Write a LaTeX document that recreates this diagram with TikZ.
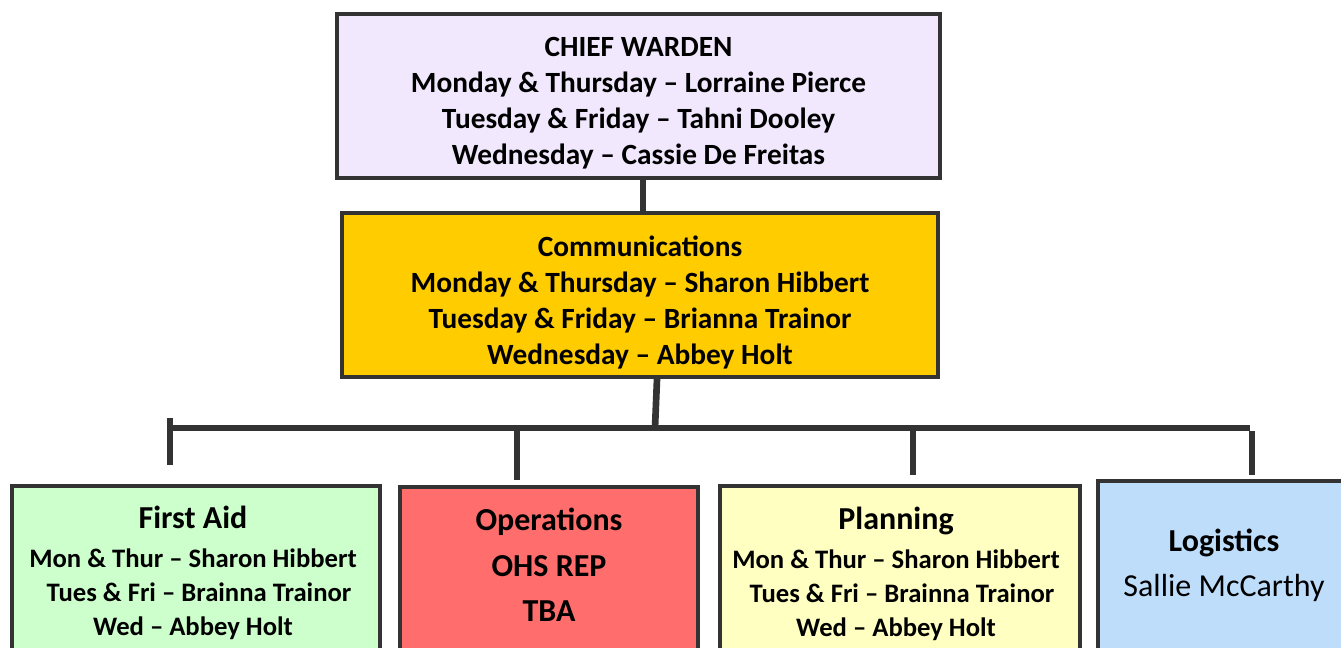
\documentclass[tikz,border=0pt]{standalone}
\usepackage{fontspec}
\setmainfont{Carlito}
\begin{document}
\begin{tikzpicture}[x=0.75pt,y=-0.75pt]
\definecolor{linegray}{HTML}{333333}
\definecolor{chieffill}{HTML}{F1E8FD}
\definecolor{commfill}{HTML}{FFCC00}
\definecolor{aidfill}{HTML}{CCFFCC}
\definecolor{opsfill}{HTML}{FF6D6D}
\definecolor{planfill}{HTML}{FFFFC1}
\definecolor{logifill}{HTML}{BDDDFB}
\tikzstyle{box} = [draw=linegray, line width=3pt, inner sep=0pt] % frame of every box
\tikzstyle{link} = [draw=linegray, line width=5pt] % connector bars
\tikzstyle{bigtxt} = [align=center, font=\bfseries\fontsize{22}{27}\selectfont] % top boxes
\tikzstyle{smalltxt} = [align=center, font=\bfseries\fontsize{20}{25.5}\selectfont] % bottom boxes

\useasboundingbox (0,0) rectangle (1341,648);
\clip (0,0) rectangle (1341,648);

% top of the tree
\node[box, fill=chieffill, minimum width=603*0.75pt, minimum height=164*0.75pt] (chief) at (638.5,96) {};
\node[bigtxt] (chieftxt) at (638.5,103) {CHIEF WARDEN\\Monday \& Thursday -- Lorraine Pierce\\Tuesday \& Friday -- Tahni Dooley\\Wednesday -- Cassie De Freitas};
\node[box, fill=commfill, minimum width=596*0.75pt, minimum height=164*0.75pt] (comm) at (640,295) {};
\node[bigtxt] (commtxt) at (640,302) {Communications\\Monday \& Thursday -- Sharon Hibbert\\Tuesday \& Friday -- Brianna Trainor\\Wednesday -- Abbey Holt};

% bottom row
\node[box, fill=aidfill, minimum width=368*0.75pt, minimum height=174*0.75pt] (aid) at (196,573) {};
\node[box, fill=opsfill, minimum width=298*0.75pt, minimum height=180*0.75pt] (ops) at (549,577) {};
\node[box, fill=planfill, minimum width=360*0.75pt, minimum height=180*0.75pt] (plan) at (900,576) {};
\node[box, fill=logifill, minimum width=252*0.75pt, minimum height=190*0.75pt] (logi) at (1224,576) {};

\node[smalltxt] (aidtxt) at (193,573) {{\fontsize{24}{27}\selectfont First Aid}\\[4pt]Mon \& Thur -- Sharon Hibbert\\\ \ Tues \& Fri -- Brainna Trainor\\Wed -- Abbey Holt};
\node[align=center, font=\bfseries\fontsize{24}{34}\selectfont] (opstxt) at (549,565) {Operations\\OHS REP\\TBA};
\node[smalltxt] (plantxt) at (896,574) {{\fontsize{24}{27}\selectfont Planning}\\[4pt]Mon \& Thur -- Sharon Hibbert\\\ \ Tues \& Fri -- Brainna Trainor\\Wed -- Abbey Holt};
\node[align=center, font=\fontsize{24}{34}\selectfont] (logitxt) at (1224,565) {\textbf{Logistics}\\Sallie McCarthy};

% connectors
\coordinate (busL) at (170,428);
\coordinate (busR) at (1250,428);
\coordinate (aidtop) at (170,465);
\coordinate (opstop) at (517,480);
\coordinate (plantop) at (913,475);
\coordinate (logitop) at (1252,475);
\draw[link] (chief.south -| 643,0) -- (comm.north -| 643,0);
\draw[link] ([xshift=12.75pt]comm.south) -- (655,428);
\draw[link] (busL) -- (busR);
\draw[link] (170,418) -- (aidtop);
\draw[link] (opstop |- busL) -- (opstop);
\draw[link] (plantop |- busL) -- (plantop);
\draw[link] (1252,431) -- (logitop);
\end{tikzpicture}
\end{document}
